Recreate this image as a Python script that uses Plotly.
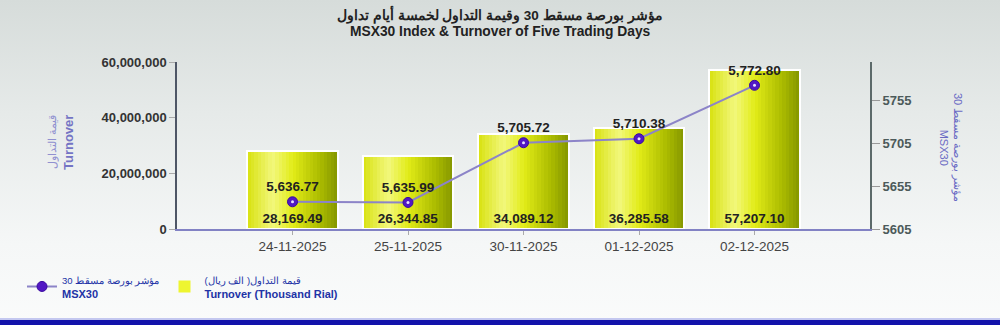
import base64
import plotly.graph_objects as go

# ---------------- data ----------------
dates = ["24-11-2025", "25-11-2025", "30-11-2025", "01-12-2025", "02-12-2025"]
turnover_thousand = [28169.49, 26344.85, 34089.12, 36285.58, 57207.10]
msx30 = [5636.77, 5635.99, 5705.72, 5710.38, 5772.80]
left_ticks = [0, 20000000, 40000000, 60000000]
right_ticks = [5605, 5655, 5705, 5755]

turnover_rial = [v * 1000 for v in turnover_thousand]
turn_labels = [f"{v:,.2f}" for v in turnover_thousand]
idx_labels = [f"{v:,.2f}" for v in msx30]

# ---------------- layout geometry ----------------
W, H = 1000, 325
ML, MR, MT, MB = 177, 130, 62, 96
PW, PH = W - ML - MR, H - MT - MB


def px_x(px):
    return (px - ML) / PW


def px_y(py):
    return (H - MB - py) / PH


FONT = "Liberation Sans, Arial, sans-serif"

fig = go.Figure()

# line trace first (legend order)
fig.add_trace(go.Scatter(
    x=dates, y=msx30, yaxis="y2",
    name="<span style='font-size:9.5px'>مؤشر بورصة مسقط 30</span><br><b>MSX30</b>",
    mode="lines+markers+text", text=idx_labels, textposition="top center",
    textfont=dict(family=FONT, size=13.5, color="#222222", weight="bold"),
    line=dict(color="#8c84c8", width=2),
    marker=dict(size=10, color="#5218c4", line=dict(color="#3a0aa0", width=1)),
    cliponaxis=False,
))

# gradient bars built from slices
stops = [(0.0, (0xd8, 0xe2, 0x10)), (0.28, (0xf2, 0xf7, 0x7c)), (0.5, (0xe2, 0xec, 0x18)),
         (0.8, (0xac, 0xbc, 0x00)), (1.0, (0x84, 0x96, 0x00))]


def grad(t):
    for (t0, c0), (t1, c1) in zip(stops, stops[1:]):
        if t0 <= t <= t1:
            f = (t - t0) / (t1 - t0)
            return "rgb(%d,%d,%d)" % tuple(round(a + (b - a) * f) for a, b in zip(c0, c1))
    return "rgb(%d,%d,%d)" % stops[-1][1]


BW = 0.78
N = 26
sw = BW / N
for k in range(N):
    col = grad((k + 0.5) / N)
    fig.add_trace(go.Bar(
        x=dates, y=turnover_rial, width=sw * 1.08, offset=-BW / 2 + k * sw,
        marker=dict(color=col, line=dict(width=0)), showlegend=False, hoverinfo="skip",
    ))

# outline + labels
fig.add_trace(go.Bar(
    x=dates, y=turnover_rial, width=BW, offset=-BW / 2,
    marker=dict(color="rgba(0,0,0,0)", line=dict(color="white", width=2)),
    text=turn_labels, textposition="inside", insidetextanchor="start",
    textfont=dict(family=FONT, size=13.5, color="#222222", weight="bold"),
    textangle=0, showlegend=False, hoverinfo="skip",
))

# legend-only bar
fig.add_trace(go.Bar(
    x=[dates[0]], y=[None],
    name="<span style='font-size:9.5px'>قيمة التداول( الف ريال)</span><br><b>Turnover (Thousand Rial)</b>",
    marker=dict(color="#eef530", line=dict(width=0)),
))

# white dots in markers
fig.add_trace(go.Scatter(
    x=dates, y=msx30, yaxis="y2", mode="markers", showlegend=False, hoverinfo="skip",
    marker=dict(size=3, color="#e8e0ff"),
))

# background gradient as svg image
svg = f'''<svg xmlns="http://www.w3.org/2000/svg" width="{W}" height="{H}">
<defs><linearGradient id="g" x1="0" y1="0" x2="0" y2="1">
<stop offset="0" stop-color="#d6dcda"/><stop offset="0.35" stop-color="#e6eae9"/>
<stop offset="0.75" stop-color="#f5f7f7"/><stop offset="1" stop-color="#fafbfb"/></linearGradient></defs>
<rect x="0" y="0" width="{W}" height="{H}" fill="url(#g)"/>
<rect x="0" y="318" width="{W}" height="2" fill="#c4c8f0"/>
<rect x="0" y="320" width="{W}" height="5" fill="#1212aa"/>
</svg>'''
src = "data:image/svg+xml;base64," + base64.b64encode(svg.encode()).decode()

fig.update_layout(
    width=W, height=H,
    margin=dict(l=ML, r=MR, t=MT, b=MB, pad=0),
    paper_bgcolor="#f4f6f6", plot_bgcolor="rgba(0,0,0,0)",
    barmode="overlay", bargap=0,
    font=dict(family=FONT, size=12, color="#333333"),
    images=[dict(source=src, xref="paper", yref="paper", x=px_x(0), y=px_y(0),
                 sizex=W / PW, sizey=H / PH, xanchor="left", yanchor="top",
                 sizing="stretch", layer="below")],
    xaxis=dict(type="category", range=[-1, 5], showgrid=False, zeroline=False,
               showline=True, linecolor="#8282c4", linewidth=1.5,
               ticks="outside", ticklen=4, tickcolor="#aaaaaa",
               tickfont=dict(family=FONT, size=13.5, color="#444444")),
    yaxis=dict(range=[0, 60000000], tickvals=left_ticks, tickformat=",",
               showgrid=False, zeroline=False, showline=True, linecolor="#4e5666",
               linewidth=1.5, ticks="outside", ticklen=6, tickcolor="#aaaaaa",
               tickfont=dict(family=FONT, size=13, color="#333333", weight="bold"),
               ),
    yaxis2=dict(overlaying="y", side="right", range=[5605, 5800], tickvals=right_ticks,
                showgrid=False, zeroline=False, showline=True, linecolor="#5c6a6a",
                linewidth=2, ticks="outside", ticklen=8, tickcolor="#999999",
                tickfont=dict(family=FONT, size=13, color="#4c5a5a", weight="bold")),
    legend=dict(orientation="h", xref="container", yref="container", x=0.022, y=0.118,
                xanchor="left", yanchor="middle", bgcolor="rgba(0,0,0,0)",
                font=dict(family=FONT, size=11, color="#2233a6"),
                traceorder="normal", itemwidth=30),
    showlegend=True,
    annotations=[
        dict(text="<b>مؤشر بورصة مسقط 30 وقيمة التداول لخمسة أيام تداول</b>", xref="paper", yref="paper",
             x=px_x(500), y=px_y(15), xanchor="center", yanchor="middle", showarrow=False,
             font=dict(family=FONT, size=13.5, color="#222222")),
        dict(text="<b>MSX30 Index & Turnover of Five Trading Days</b>", xref="paper", yref="paper",
             x=px_x(500), y=px_y(32), xanchor="center", yanchor="middle", showarrow=False,
             font=dict(family=FONT, size=13.8, color="#222222")),
        dict(text="<span style='font-size:11px;color:#9090d0'>قيمة التداول</span><br><b>Turnover</b>",
             xref="paper", yref="paper", x=px_x(61), y=px_y(143), xanchor="center", yanchor="middle",
             textangle=-90, showarrow=False,
             font=dict(family=FONT, size=13, color="#7474c4")),
        dict(text="مؤشر بورصة مسقط 30<br>MSX30",
             xref="paper", yref="paper", x=px_x(951), y=px_y(147), xanchor="center", yanchor="middle",
             textangle=90, showarrow=False,
             font=dict(family=FONT, size=11, color="#6a6ac4")),
    ],
)

fig.write_html("out.html")
